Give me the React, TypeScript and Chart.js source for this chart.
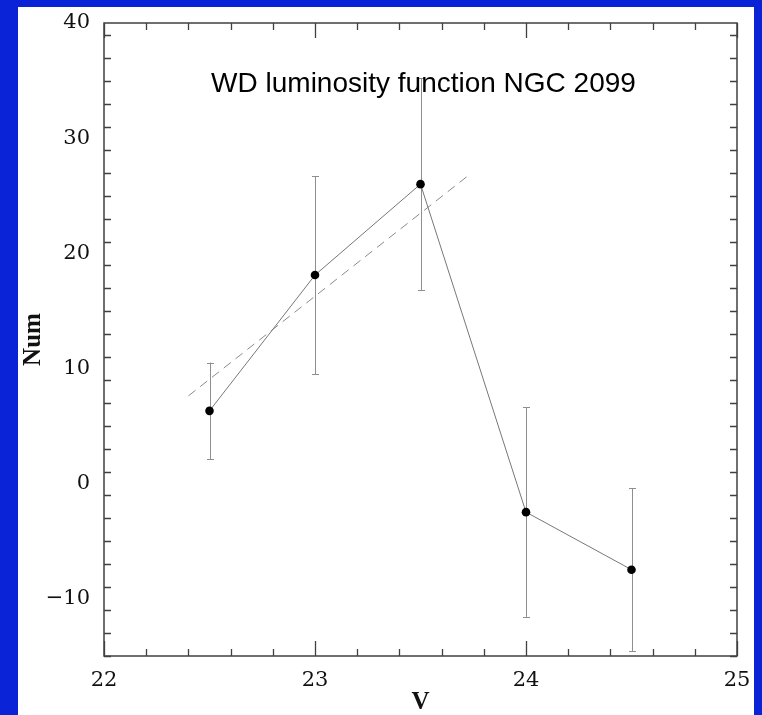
import { useEffect, useRef } from "react";
import { Chart, registerables } from "chart.js";

Chart.register(...registerables);

// ---- data ----
const magnitudes = [22.5, 23, 23.5, 24, 24.5];
const counts = [6.3, 18.1, 26.0, -2.5, -7.5];
const errors = [4.2, 8.6, 9.2, 9.1, 7.1];
const fitX = [22.4, 23.72];
const fitY = [7.6, 26.65];
const xTicks = [22, 23, 24, 25];
const yTicks = [-10, 0, 10, 20, 30, 40];
const titleText = "WD luminosity function NGC 2099";
const xLabel = "V";
const yLabel = "Num";

const X_MIN = 22;
const X_MAX = 25;
const Y_MIN = -15;
const Y_MAX = 40;
const X_MINOR_STEP = 0.2;
const Y_MINOR_STEP = 2;

const errorBarPlugin = {
  id: "errorBars",
  beforeDatasetsDraw(chart: any) {
    const ctx = chart.ctx;
    const xs = chart.scales.x;
    const ys = chart.scales.y;
    ctx.save();
    ctx.strokeStyle = "#8e8e8e";
    ctx.lineWidth = 1;
    magnitudes.forEach((m, i) => {
      const px = Math.round(xs.getPixelForValue(m)) + 0.5;
      const top = ys.getPixelForValue(counts[i] + errors[i]);
      const bot = ys.getPixelForValue(counts[i] - errors[i]);
      ctx.beginPath();
      ctx.moveTo(px, top);
      ctx.lineTo(px, bot);
      ctx.moveTo(px - 3.5, Math.round(top) + 0.5);
      ctx.lineTo(px + 3.5, Math.round(top) + 0.5);
      ctx.moveTo(px - 3.5, Math.round(bot) + 0.5);
      ctx.lineTo(px + 3.5, Math.round(bot) + 0.5);
      ctx.stroke();
    });
    ctx.restore();
  },
};

const framePlugin = {
  id: "frameTicks",
  afterDatasetsDraw(chart: any) {
    const ctx = chart.ctx;
    const xs = chart.scales.x;
    const ys = chart.scales.y;
    const { left, right, top, bottom } = chart.chartArea;
    ctx.save();
    ctx.strokeStyle = "#404040";
    ctx.lineWidth = 1.5;
    ctx.strokeRect(left, top, right - left, bottom - top);
    ctx.lineWidth = 1.3;
    ctx.beginPath();
    const nx = Math.round((X_MAX - X_MIN) / X_MINOR_STEP);
    for (let k = 0; k <= nx; k++) {
      const v = X_MIN + k * X_MINOR_STEP;
      const isMajor = xTicks.some((t) => Math.abs(t - v) < 1e-6);
      const len = isMajor ? 15 : 7;
      const px = Math.round(xs.getPixelForValue(v)) + 0.5;
      ctx.moveTo(px, bottom);
      ctx.lineTo(px, bottom - len);
      ctx.moveTo(px, top);
      ctx.lineTo(px, top + len);
    }
    const ny = Math.round((Y_MAX - Y_MIN) / Y_MINOR_STEP);
    for (let k = 0; k <= ny; k++) {
      const v = Y_MIN + k * Y_MINOR_STEP;
      if (v > Y_MAX + 1e-6) break;
      const isMajor = yTicks.some((t) => Math.abs(t - v) < 1e-6);
      const len = isMajor ? 15 : 7;
      const py = Math.round(ys.getPixelForValue(v)) + 0.5;
      ctx.moveTo(left, py);
      ctx.lineTo(left + len, py);
      ctx.moveTo(right, py);
      ctx.lineTo(right - len, py);
    }
    ctx.stroke();

    ctx.fillStyle = "#000";
    ctx.font = "28px 'Liberation Sans', Arial, sans-serif";
    ctx.textAlign = "center";
    ctx.textBaseline = "alphabetic";
    ctx.fillText(titleText, (left + right) / 2 + 3, top + 69);
    ctx.restore();
  },
};

export default function App() {
  const ref = useRef<HTMLCanvasElement>(null);

  useEffect(() => {
    if (!ref.current) return;
    const chart = new Chart(ref.current, {
      type: "line",
      data: {
        datasets: [
          {
            label: "counts",
            data: magnitudes.map((m, i) => ({ x: m, y: counts[i] })),
            borderColor: "#777777",
            borderWidth: 1,
            pointRadius: 4.3,
            pointBackgroundColor: "#000",
            pointBorderColor: "#000",
            pointBorderWidth: 0,
            tension: 0,
            fill: false,
          },
          {
            label: "fit",
            data: fitX.map((x, i) => ({ x, y: fitY[i] })),
            borderColor: "#8a8a8a",
            borderWidth: 1,
            borderDash: [9, 6],
            pointRadius: 0,
            tension: 0,
            fill: false,
          },
        ],
      },
      options: {
        animation: false,
        responsive: false,
        layout: { padding: { top: 16, right: 17, left: 0, bottom: 0 } },
        plugins: {
          legend: { display: false },
          tooltip: { enabled: false },
          title: { display: false },
        },
        scales: {
          x: {
            type: "linear",
            min: X_MIN,
            max: X_MAX,
            grid: { display: false },
            border: { display: false },
            afterFit: (s: any) => {
              s.height = 59;
              s.paddingLeft = 0;
              s.paddingRight = 0;
            },
            afterBuildTicks: (s: any) => {
              s.ticks = xTicks.map((v) => ({ value: v }));
            },
            ticks: {
              color: "#111",
              padding: 4,
              maxRotation: 0,
              autoSkip: false,
              font: { family: "'DejaVu Serif', serif", size: 21 },
              callback: (v: any) => String(v),
            },
            title: {
              display: true,
              text: xLabel,
              color: "#111",
              padding: 0,
              font: { family: "'Liberation Serif', serif", size: 25, weight: "bold", lineHeight: 1 },
            },
          },
          y: {
            type: "linear",
            min: Y_MIN,
            max: Y_MAX,
            grid: { display: false },
            border: { display: false },
            afterFit: (s: any) => {
              s.width = 86;
              s.paddingTop = 0;
              s.paddingBottom = 0;
            },
            afterBuildTicks: (s: any) => {
              s.ticks = yTicks.map((v) => ({ value: v }));
            },
            ticks: {
              color: "#111",
              padding: 6,
              autoSkip: false,
              font: { family: "'DejaVu Serif', serif", size: 21 },
              callback: (v: any) => (v < 0 ? "\u2212" + Math.abs(v) : String(v)),
            },
            title: {
              display: true,
              text: yLabel,
              color: "#111",
              padding: 1,
              font: { family: "'Liberation Serif', serif", size: 25, weight: "bold", lineHeight: 1.2 },
            },
          },
        },
      },
      plugins: [errorBarPlugin, framePlugin],
    });
    return () => chart.destroy();
  }, []);

  return (
    <div style={{ position: "fixed", inset: 0, background: "#0a23d6" }}>
      <div
        style={{
          position: "absolute",
          left: 18,
          top: 7,
          width: 736,
          height: 708,
          background: "#fff",
        }}
      >
        <canvas ref={ref} width={736} height={708} style={{ display: "block" }} />
      </div>
    </div>
  );
}
